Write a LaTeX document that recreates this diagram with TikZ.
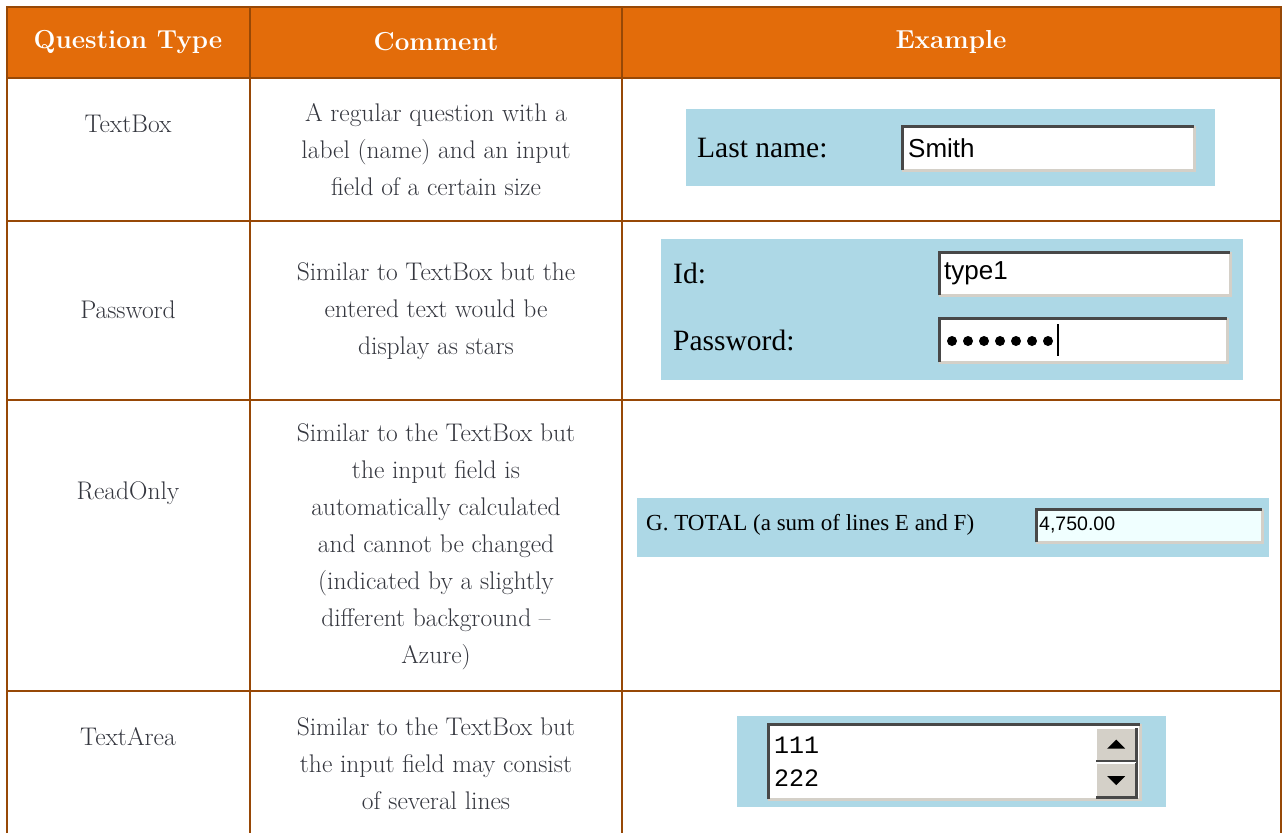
\documentclass[tikz,border=0pt]{standalone}
\usepackage{fontspec}
\newfontfamily\timesfont{Liberation Serif}
\newfontfamily\arialfont{Liberation Sans}
\newfontfamily\courfont{Liberation Mono}
\usetikzlibrary{positioning}
\definecolor{hdrorange}{RGB}{227,108,10}
\definecolor{gridbrown}{RGB}{151,72,6}
\definecolor{celltext}{RGB}{52,54,62}
\definecolor{formblue}{RGB}{173,216,230}
\definecolor{azurefield}{RGB}{240,255,255}
\definecolor{bevdark}{RGB}{72,72,72}
\definecolor{bevlight}{RGB}{212,208,200}
% sunken and raised 3D borders of a form control
\newcommand{\sunken}[1]{%
  \draw[bevlight, line width=2.5] (#1.north east) |- (#1.south west);
  \draw[bevdark, line width=3] (#1.south west) |- (#1.north east);}
\newcommand{\raised}[1]{%
  \draw[white, line width=2.5] (#1.south west) |- (#1.north east);
  \draw[bevdark, line width=3] (#1.north east) |- (#1.south west);}

\begin{document}
\begin{tikzpicture}[x=1pt, y=-1pt,
        hdr/.style={font=\fontsize{26}{30}\selectfont\bfseries, text=white},
        cell/.style={font=\fontsize{25.5}{37}\selectfont, text=celltext, align=center},
        grid line/.style={draw=gridbrown, line width=2.5},
        field/.style={anchor=north west, inner sep=0pt, fill=white},
        lbl/.style={anchor=west, inner sep=0pt},
        tlbl/.style={lbl, font=\timesfont\fontsize{29.5}{30}\selectfont},
        albl/.style={lbl, font=\arialfont\fontsize{26}{28}\selectfont}
    ]
        \useasboundingbox (0,0) rectangle (1284,833);

        % Header
        \fill[hdrorange] (7,7) rectangle (1281,78);
        \node[hdr] (hqt) at (128,42) {Question Type};
        \node[hdr] (hcom) at (436,42) {Comment};
        \node[hdr] (hex) at (951,42) {Example};

        % Grid
        \draw[grid line] (7,833) -- (7,7) -- (1281,7) -- (1281,833);
        \draw[grid line] (250,7) -- (250,833);
        \draw[grid line] (622,7) -- (622,833);
        \foreach \y in {78,221,400,691}
            \draw[grid line] (7,\y) -- (1281,\y);

        % Question types
        \node[cell] (tbox) at (128,124) {TextBox};
        \node[cell] (pwd) at (128,310) {Password};
        \node[cell] (ronly) at (128,493) {ReadOnly};
        \node[cell] (tarea) at (128,737) {TextArea};

        % Comments
        \node[cell] (ctbox) at (436,150) {A regular question with a\\label (name) and an input\\field of a certain size};
        \node[cell] (cpwd) at (436,311) {Similar to TextBox but the\\entered text would be\\display as stars};
        \node[cell] (cronly) at (436,547) {Similar to the TextBox but\\the input field is\\automatically calculated\\and cannot be changed\\(indicated by a slightly\\different background --\\Azure)};
        \node[cell] (ctarea) at (436,764) {Similar to the TextBox but\\the input field may consist\\of several lines};

        % Example: TextBox
        \fill[formblue] (686,109) rectangle (1215,186);
        \node[tlbl] (lastl) at (697,148) {Last name:};
        \node[field, minimum width=292pt, minimum height=44pt] (lastf) at (902,126) {};
        \sunken{lastf}
        \node[albl] (smith) at (908,148) {Smith};

        % Example: Password
        \fill[formblue] (661,239) rectangle (1243,380);
        \node[tlbl] (idl) at (673,273) {Id:};
        \node[tlbl] (pwl) at (673,340) {Password:};
        \node[field, minimum width=291pt, minimum height=43pt] (idf) at (939,252) {};
        \sunken{idf}
        \node[albl] (type) at (944,273) {type1};
        \node[field, minimum width=288pt, minimum height=44pt] (pwf) at (939,318) {};
        \sunken{pwf}
        \foreach \i in {0,...,6}
            \fill (952+16*\i,341) circle (5);
        \draw[line width=1.5] (1058,324) -- (1058,356);

        % Example: ReadOnly
        \fill[formblue] (637,498) rectangle (1269,557);
        \node[lbl, font=\timesfont\fontsize{23}{25}\selectfont] (totl) at (646,525) {G. TOTAL (a sum of lines E and F)};
        \node[field, fill=azurefield, minimum width=226pt, minimum height=33pt] (totf) at (1036,509) {};
        \sunken{totf}
        \node[lbl, font=\arialfont\fontsize{19.5}{21}\selectfont] (total) at (1039,525) {4,750.00};

        % Example: TextArea
        \fill[formblue] (737,716) rectangle (1166,807);
        \node[field, minimum width=372pt, minimum height=75pt] (areaf) at (768,724) {};
        \sunken{areaf}
        \node[lbl, font=\courfont\fontsize{25}{27}\selectfont] (one) at (774,745) {111};
        \node[lbl, font=\courfont\fontsize{25}{27}\selectfont] (two) at (774,778) {222};
        \node[field, fill=bevlight, minimum width=40pt, minimum height=33pt] (upb) at (1096,728) {};
        \raised{upb}
        \node[field, fill=bevlight, minimum width=40pt, minimum height=34pt] (dnb) at (1096,763) {};
        \raised{dnb}
        \fill (upb.center) ++(-9,4) -- ++(18,0) -- ++(-9,-9) -- cycle;
        \fill (dnb.center) ++(-9,-4) -- ++(18,0) -- ++(-9,9) -- cycle;
    \end{tikzpicture}
\end{document}
